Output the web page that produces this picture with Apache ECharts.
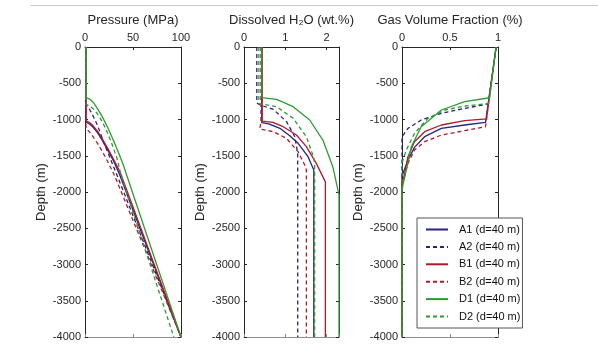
<!DOCTYPE html>
<html><head><meta charset="utf-8">
<script src="https://cdn.jsdelivr.net/npm/echarts@6/dist/echarts.min.js"></script>
<style>html,body{margin:0;padding:0;background:#fff}#c{width:598px;height:359px}</style>
</head><body><div id="c"></div>
<script>
// ---- data ----
const seriesNames = ['A1 (d=40 m)','A2 (d=40 m)','B1 (d=40 m)','B2 (d=40 m)','D1 (d=40 m)','D2 (d=40 m)'];
const panelTitles = ['Pressure (MPa)','Dissolved H\u2082O (wt.%)','Gas Volume Fraction (%)'];
const depthLabel = 'Depth (m)';

// Pressure (MPa) vs depth (m)
const pressureA1 = [[1,0],[1,-1040],[4,-1055],[8,-1100],[13,-1180],[18,-1290],[24,-1430],[30,-1580],[36,-1760],[100,-4000]];
const pressureA2 = [[1,0],[1,-800],[4,-840],[8,-940],[13,-1080],[20,-1330],[27,-1560],[34,-1790],[100,-4000]];
const pressureB1 = [[1,0],[1,-1020],[4,-1035],[8,-1080],[13,-1160],[18,-1265],[24,-1405],[30,-1555],[37,-1740],[100,-4000]];
const pressureB2 = [[1,0],[1,-1130],[4,-1160],[8,-1230],[13,-1330],[18,-1440],[24,-1590],[31,-1780],[100,-4000]];
const pressureD1 = [[1,0],[1,-699],[5,-720],[9,-770],[13,-850],[18,-960],[24,-1120],[30,-1300],[35,-1460],[40,-1630],[44,-1790],[100,-4000]];
const pressureD2 = [[1,0],[1,-790],[5,-815],[10,-870],[15,-960],[21,-1110],[27,-1300],[33,-1520],[38,-1790],[92.5,-4000]];

// Dissolved H2O (wt.%) vs depth (m)
const waterA1 = [[0.43,0],[0.43,-1044],[0.6,-1060],[0.87,-1122],[1.1,-1220],[1.31,-1329],[1.55,-1513],[1.69,-1697],[1.69,-4000]];
const waterA2 = [[0.31,0],[0.31,-770],[0.39,-800],[0.71,-860],[1.03,-1030],[1.23,-1237],[1.30,-1466],[1.30,-4000]];
const waterB1 = [[0.44,0],[0.44,-1021],[0.7,-1040],[0.95,-1099],[1.27,-1214],[1.51,-1375],[1.75,-1605],[1.97,-1860],[1.97,-4000]];
const waterB2 = [[0.41,0],[0.41,-1050],[0.38,-1130],[0.71,-1168],[1.03,-1260],[1.31,-1444],[1.47,-1628],[1.51,-1700],[1.51,-4000]];
const waterD1 = [[0.43,0],[0.43,-699],[0.79,-722],[1.19,-823],[1.59,-1007],[1.91,-1283],[2.15,-1651],[2.3,-2040],[2.3,-4000]];
const waterD2 = [[0.36,0],[0.36,-780],[0.47,-790],[0.79,-823],[1.19,-984],[1.51,-1237],[1.68,-1513],[1.71,-1600],[1.71,-4000]];

// Gas volume fraction vs depth (m)
const gasA1 = [[0.98,0],[0.87,-1040],[0.854,-1053],[0.653,-1076],[0.41,-1122],[0.236,-1237],[0.13,-1384],[0.0625,-1559],[0.01,-1743],[0,-1790],[0,-4000]];
const gasA2 = [[0.98,0],[0.90,-780],[0.868,-793],[0.653,-846],[0.41,-915],[0.20,-1007],[0.0625,-1122],[0.01,-1220],[0,-1250],[0,-4000]];
const gasB1 = [[0.98,0],[0.88,-990],[0.868,-1000],[0.653,-1016],[0.41,-1076],[0.236,-1168],[0.13,-1306],[0.0625,-1513],[0.02,-1789],[0,-1880],[0,-4000]];
const gasB2 = [[0.98,0],[0.87,-1100],[0.854,-1122],[0.653,-1154],[0.41,-1214],[0.236,-1306],[0.13,-1421],[0.0625,-1605],[0.015,-1835],[0,-1870],[0,-4000]];
const gasD1 = [[0.98,0],[0.913,-700],[0.653,-754],[0.41,-869],[0.20,-1099],[0.097,-1375],[0.045,-1697],[0.01,-1900],[0,-2000],[0,-4000]];
const gasD2 = [[0.98,0],[0.90,-780],[0.89,-791],[0.653,-814],[0.445,-869],[0.27,-984],[0.13,-1191],[0.045,-1421],[0.01,-1559],[0,-1600],[0,-4000]];

const xRanges = [[0,100,50],[0,2.3,1],[0,1,0.5]];
const depthRange = [-4000,0,500];

// ---- styles ----
const colors = ['#25237c','#25237c','#b01a2c','#b01a2c','#2f9a35','#2f9a35'];
const dashed = [false,true,false,true,false,true];
const panelData = [
  [pressureA1,pressureA2,pressureB1,pressureB2,pressureD1,pressureD2],
  [waterA1,waterA2,waterB1,waterB2,waterD1,waterD2],
  [gasA1,gasA2,gasB1,gasB2,gasD1,gasD2]
];
const grids = [
  {left:85, top:47, width:96, height:290},
  {left:244, top:47, width:95, height:290},
  {left:402, top:47, width:96, height:290}
];
const FONT = '"Liberation Sans", Arial, Helvetica, sans-serif';
const dark = '#262626';

const xAxis = [], yAxis = [], series = [];
for (let p = 0; p < 3; p++) {
  const [xmin,xmax,xint] = xRanges[p];
  xAxis.push({
    type:'value', gridIndex:p, position:'top', min:xmin, max:xmax, interval:xint,
    name: panelTitles[p], nameLocation:'middle', nameGap:20,
    nameTextStyle:{fontFamily:FONT, fontSize:13, color:dark},
    axisLine:{show:true, onZero:false, lineStyle:{color:dark, width:1}},
    axisTick:{show:true, inside:true, length:3, lineStyle:{color:dark}},
    axisLabel:{show:true, fontFamily:FONT, fontSize:11, color:dark, margin:4, showMaxLabel: p===1 ? false : true,
      formatter: v => String(v)},
    splitLine:{show:false}
  });
  xAxis.push({
    type:'value', gridIndex:p, position:'bottom', min:xmin, max:xmax, interval:xint,
    axisLine:{show:true, onZero:false, lineStyle:{color:'#8c8c8c', width:1}},
    axisTick:{show:true, inside:true, length:3, lineStyle:{color:'#8c8c8c'}},
    axisLabel:{show:false}, splitLine:{show:false}
  });
  yAxis.push({
    type:'value', gridIndex:p, position:'left', min:depthRange[0], max:depthRange[1], interval:depthRange[2],
    name: depthLabel, nameLocation:'middle', nameGap:37,
    nameTextStyle:{fontFamily:FONT, fontSize:13, color:dark},
    axisLine:{show:true, onZero:false, lineStyle:{color:dark, width:1}},
    axisTick:{show:true, inside:true, length:3, lineStyle:{color:dark}},
    axisLabel:{show:true, fontFamily:FONT, fontSize:11, color:dark, margin:4, formatter: v => String(v)},
    splitLine:{show:false}
  });
  yAxis.push({
    type:'value', gridIndex:p, position:'right', min:depthRange[0], max:depthRange[1], interval:depthRange[2],
    axisLine:{show:true, onZero:false, lineStyle:{color:dark, width:1}},
    axisTick:{show:true, inside:true, length:3, lineStyle:{color:dark}},
    axisLabel:{show:false}, splitLine:{show:false}
  });
  for (let s = 0; s < 6; s++) {
    series.push({
      type:'line', name: seriesNames[s], xAxisIndex: p*2, yAxisIndex: p*2,
      data: panelData[p][s], symbol:'none', showSymbol:false, animation:false,
      clip:true,
      lineStyle:{color:colors[s], width:1.3, type: dashed[s] ? [4,3] : 'solid'},
      itemStyle:{color:colors[s]}
    });
  }
}

const chart = echarts.init(document.getElementById('c'), null, {renderer:'canvas'});
chart.setOption({
  backgroundColor:'#ffffff',
  animation:false,
  grid: grids,
  xAxis, yAxis, series,
  legend:{
    data: seriesNames, orient:'vertical', left:417, top:218,
    padding:[6,2,6,8], itemGap:6.4, itemWidth:22, itemHeight:10,
    backgroundColor:'#ffffff', borderColor:'#555555', borderWidth:1,
    itemStyle:{color:'transparent', borderColor:'transparent', borderWidth:0, opacity:0},
    textStyle:{fontFamily:FONT, fontSize:11, color:'#111', padding:[0,0,0,6]},
    selectedMode:false
  },
  graphic:[{type:'line', shape:{x1:30, y1:5.5, x2:598, y2:5.5}, style:{stroke:'#cfcfcf', lineWidth:1}, silent:true}]
});
</script></body></html>
